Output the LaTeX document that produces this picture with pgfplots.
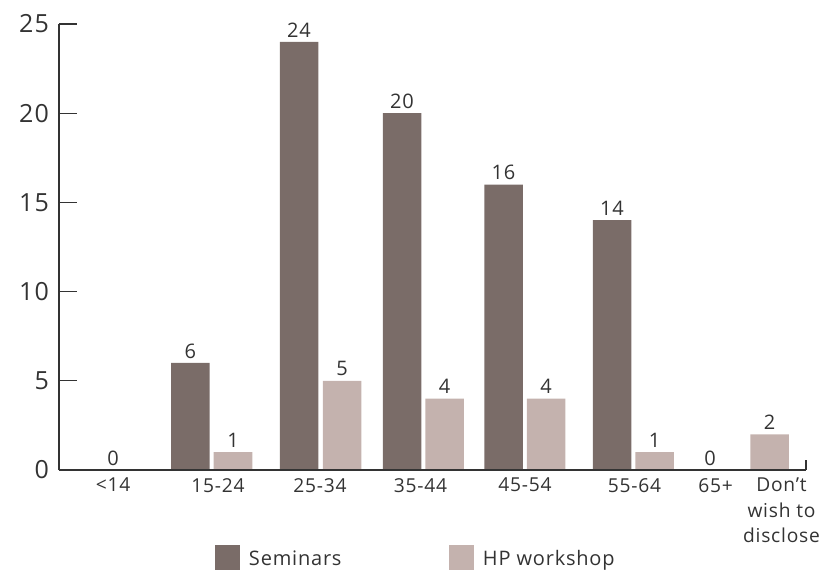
\documentclass[border=0pt]{standalone}
\usepackage{fontspec}
\setmainfont{Open Sans}[LetterSpace=4]
\usepackage{pgfplots}
\pgfplotsset{compat=1.18}

\definecolor{seminar}{RGB}{122,108,104}
\definecolor{workshop}{RGB}{196,178,174}
\definecolor{ink}{RGB}{51,51,51}

\pgfplotsset{
  valuebar/.style={ybar, bar width=38.5bp, bar shift=0pt, draw=none,
    nodes near coords,
    every node near coord/.append style={font=\fontsize{20bp}{24bp}\selectfont, text=ink,
      inner sep=0pt, anchor=south, yshift=4.5bp}},
}

\begin{document}
\begin{tikzpicture}
\begin{axis}[
  at={(59bp,102bp)}, anchor=south west,
  x=1bp, y=17.84bp,
  xmin=59, xmax=806, ymin=0, ymax=25,
  clip=false,
  axis on top,
  axis lines*=left,
  axis line style={-, line width=1.3bp, color=ink},
  every tick/.style={ink, line width=1.3bp},
  /pgf/number format/assume math mode=true,
  tick align=inside,
  xtick pos=bottom, ytick pos=left,
  ytick={0,5,10,15,20,25},
  ytick style={/pgfplots/major tick length=18bp},
  y tick label style={font=\fontsize{25bp}{30bp}\selectfont, text=ink, inner sep=0pt, xshift=-10bp},
  xtick={113,218,320,420.5,525,634.5,715.5,781.5},
  xticklabels={{<14},{15-24},{25-34},{35-44},{45-54},{55-64},{65+},{Don’t\\wish to\\disclose}},
  xtick style={/pgfplots/major tick length=0pt},
  x tick label style={font=\fontsize{19.2bp}{25.5bp}\selectfont, text=ink, inner sep=0pt, anchor=north, yshift=-8bp, align=center},
  extra x ticks={806},
  extra x tick labels={},
  extra x tick style={xtick style={/pgfplots/major tick length=10bp}},
  legend columns=2,
  legend style={at={(0.2088,-0.1682)}, anchor=north west, draw=none, fill=none,
    inner sep=0pt, outer sep=0pt,
    nodes={inner sep=0pt, outer sep=0pt, font=\fontsize{20bp}{24bp}\selectfont, text=ink},
    /tikz/every odd column/.append style={column sep=9bp}},
  legend image code/.code={\fill[draw=none] (0bp,0bp) rectangle (25bp,25bp);},
]
% Seminars
\addplot[valuebar, fill=seminar] coordinates {
  (113,0) (190.3,6) (299,24) (402,20) (503.5,16) (612,14) (710,0)};
\addlegendentry{\raisebox{22bp}{\makebox[200bp][l]{Seminars}}}
% HP workshop
\addplot[valuebar, fill=workshop] coordinates {
  (233,1) (342,5) (444.5,4) (546,4) (654.5,1) (769.5,2)};
\addlegendentry{\raisebox{22bp}{HP workshop}}
\end{axis}
\pgfresetboundingbox
\path (0,0) rectangle (824bp,572bp);
\end{tikzpicture}
\end{document}
